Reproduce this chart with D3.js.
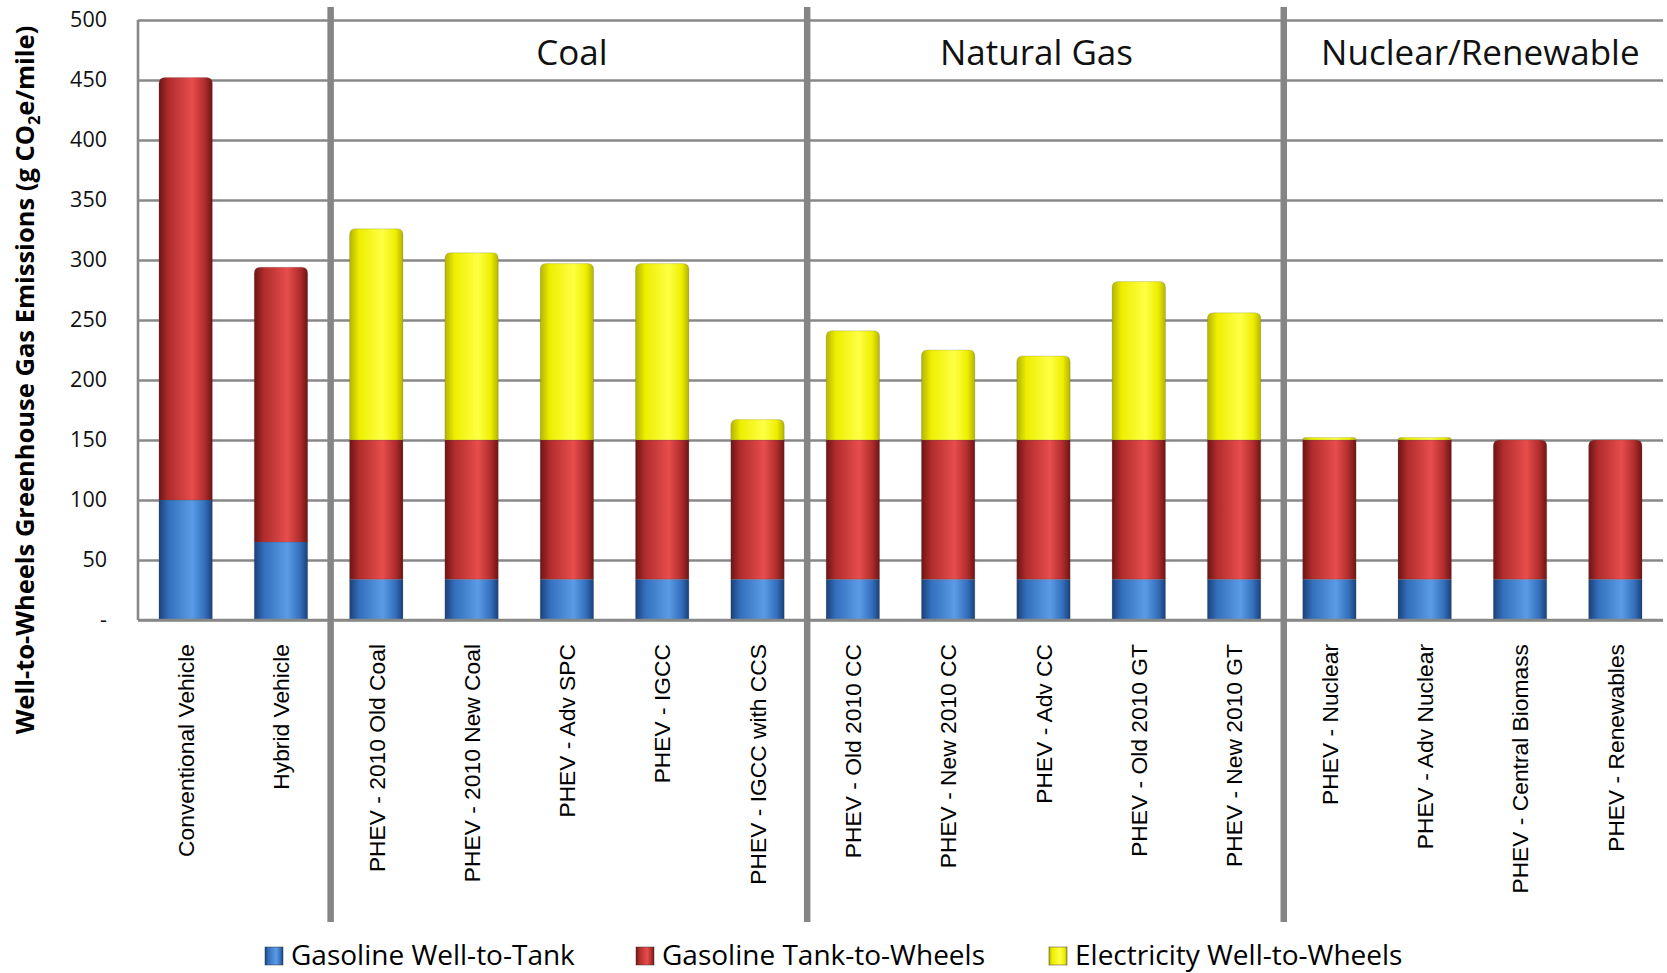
<!DOCTYPE html>
<html>
<head>
<meta charset="utf-8">
<script src="https://cdn.jsdelivr.net/npm/d3@7"></script>
<style>
  body { margin: 0; background: white; }
  svg { display: block; }
</style>
</head>
<body>
<div id="container"></div>
<script>
// categories along the x axis
const categories = [
  "Conventional Vehicle", "Hybrid Vehicle",
  "PHEV - 2010 Old Coal", "PHEV - 2010 New Coal", "PHEV - Adv SPC", "PHEV - IGCC", "PHEV - IGCC with CCS",
  "PHEV - Old 2010 CC", "PHEV - New 2010 CC", "PHEV - Adv CC", "PHEV - Old 2010 GT", "PHEV - New 2010 GT",
  "PHEV - Nuclear", "PHEV - Adv Nuclear", "PHEV - Central Biomass", "PHEV - Renewables"
];

// series values (g CO2e/mile)
const gasWellToTank   = [100, 65, 34, 34, 34, 34, 34, 34, 34, 34, 34, 34, 34, 34, 34, 34];
const gasTankToWheels = [352, 229, 116, 116, 116, 116, 116, 116, 116, 116, 116, 116, 116, 116, 116, 116];
const elecWellToWheels = [0, 0, 176, 156, 147, 147, 17, 91, 75, 70, 132, 106, 2, 2, 0, 0];

const seriesNames = ["Gasoline Well-to-Tank", "Gasoline Tank-to-Wheels", "Electricity Well-to-Wheels"];

// group headers: name and index range of categories in group
const groupNames = ["Coal", "Natural Gas", "Nuclear/Renewable"];
const groupStart = [2, 7, 12];
const groupEnd = [7, 12, 16];
const titleNudge = [5, -7, 8];

const yTicks = [0, 50, 100, 150, 200, 250, 300, 350, 400, 450, 500];

const width = 1667, height = 973;
const marginLeft = 138, marginRight = 4, marginTop = 20, plotBottom = 620;

const x = d3.scaleBand()
  .domain(categories)
  .range([marginLeft, width - marginRight])
  .paddingInner(0.44)
  .paddingOuter(0.22);

const y = d3.scaleLinear()
  .domain([0, 500])
  .range([plotBottom, marginTop]);

const svg = d3.create("svg")
  .attr("width", width)
  .attr("height", height)
  .attr("viewBox", [0, 0, width, height]);

svg.append("rect").attr("width", width).attr("height", height).attr("fill", "white");

// cylinder-like gradients
const colors = [
  { id: "gBlue", dark: "#1a4079", mid: "#336fbc", light: "#5b9be6" },
  { id: "gRed", dark: "#6e1414", mid: "#b02c2c", light: "#e84d4d" },
  { id: "gYellow", dark: "#b4b400", mid: "#eeee00", light: "#ffff45" }
];
const defs = svg.append("defs");
colors.forEach(c => {
  const g = defs.append("linearGradient").attr("id", c.id)
    .attr("x1", 0).attr("x2", 1).attr("y1", 0).attr("y2", 0);
  [[0, c.dark], [0.18, c.mid], [0.62, c.light], [0.86, c.mid], [1, c.dark]]
    .forEach(([o, col]) => g.append("stop").attr("offset", o).attr("stop-color", col));
});

// gridlines
svg.append("g")
  .attr("transform", `translate(${marginLeft},0)`)
  .call(d3.axisLeft(y).tickValues(yTicks).tickSize(-(width - marginRight - marginLeft)).tickFormat(""))
  .call(g => g.select(".domain").remove())
  .call(g => g.selectAll(".tick line").attr("stroke", "#888").attr("stroke-width", 2.6));

// left border
svg.append("line")
  .attr("x1", marginLeft).attr("x2", marginLeft)
  .attr("y1", y(500)).attr("y2", y(0))
  .attr("stroke", "#888").attr("stroke-width", 2.6);

// y tick labels
svg.append("g")
  .attr("transform", `translate(${marginLeft},0)`)
  .call(d3.axisLeft(y).tickValues(yTicks).tickSize(0).tickPadding(31)
    .tickFormat(d => d === 0 ? "-" : d))
  .call(g => g.select(".domain").remove())
  .call(g => g.selectAll("text")
    .attr("font-family", "'Open Sans', sans-serif")
    .attr("font-size", 21.5)
    .attr("fill", "#111"));

// stacked bars
const rows = categories.map((c, i) => ({
  cat: c,
  wtt: gasWellToTank[i],
  ttw: gasTankToWheels[i],
  elec: elecWellToWheels[i]
}));
const stack = d3.stack().keys(["wtt", "ttw", "elec"])(rows);
const fills = ["url(#gBlue)", "url(#gRed)", "url(#gYellow)"];

function segPath(x0, w, yTop, yBot, rounded) {
  const p = d3.path();
  const r = rounded ? Math.min(6, (yBot - yTop)) : 0;
  p.moveTo(x0, yBot);
  p.lineTo(x0, yTop + r);
  if (r > 0) p.quadraticCurveTo(x0, yTop, x0 + r, yTop);
  p.lineTo(x0 + w - r, yTop);
  if (r > 0) p.quadraticCurveTo(x0 + w, yTop, x0 + w, yTop + r);
  p.lineTo(x0 + w, yBot);
  p.closePath();
  return p.toString();
}

stack.forEach((layer, li) => {
  svg.append("g")
    .selectAll("path")
    .data(layer.filter(d => d[1] - d[0] > 0))
    .join("path")
    .attr("fill", fills[li])
    .attr("stroke", "rgba(80,80,80,0.25)")
    .attr("stroke-width", 0.8)
    .attr("d", d => {
      const isTop = li === 2 ? true : (li === 1 ? d.data.elec === 0 : false);
      return segPath(x(d.data.cat), x.bandwidth(), y(d[1]), y(d[0]), isTop);
    });
});

// baseline
svg.append("line")
  .attr("x1", marginLeft).attr("x2", width - marginRight)
  .attr("y1", y(0)).attr("y2", y(0))
  .attr("stroke", "#888").attr("stroke-width", 2.6);

// category labels
svg.append("g")
  .attr("transform", `translate(0,${plotBottom})`)
  .call(d3.axisBottom(x).tickSize(0))
  .call(g => g.select(".domain").remove())
  .call(g => g.selectAll("text")
    .attr("transform", "rotate(-90)")
    .attr("x", -24)
    .attr("y", 0)
    .attr("dy", "0.36em")
    .attr("text-anchor", "end")
    .attr("font-family", "'Liberation Sans', Arial, sans-serif")
    .attr("font-size", 22.8)
    .attr("fill", "#000"));

// group separators
const step = x.step();
const boundary = i => x(categories[i]) - step * x.paddingInner() / 2;
svg.append("g")
  .selectAll("line")
  .data(groupStart)
  .join("line")
  .attr("x1", d => boundary(d) + 2).attr("x2", d => boundary(d) + 2)
  .attr("y1", 7).attr("y2", 922)
  .attr("stroke", "#858585")
  .attr("stroke-width", 6.5);

// group titles
svg.append("g")
  .selectAll("text")
  .data(groupNames)
  .join("text")
  .attr("x", (d, i) => {
    const a = boundary(groupStart[i]);
    const b = groupEnd[i] < categories.length ? boundary(groupEnd[i]) : width - marginRight;
    return (a + b) / 2 + titleNudge[i];
  })
  .attr("y", 65)
  .attr("text-anchor", "middle")
  .attr("font-family", "'Open Sans', sans-serif")
  .attr("font-size", 35)
  .attr("fill", "#111")
  .text(d => d);

// y axis title
const yTitle = svg.append("text")
  .attr("transform", `translate(34,${380}) rotate(-90)`)
  .attr("text-anchor", "middle")
  .attr("font-family", "'Open Sans', sans-serif")
  .attr("font-weight", "bold")
  .attr("font-size", 25.5)
  .attr("fill", "#000");
yTitle.append("tspan").text("Well-to-Wheels Greenhouse Gas Emissions (g CO");
yTitle.append("tspan").attr("font-size", 16.5).attr("dy", 6).text("2");
yTitle.append("tspan").attr("dy", -6).text("e/mile)");

// legend
const legendX = [265, 636, 1049];
const legend = svg.append("g")
  .selectAll("g")
  .data(seriesNames)
  .join("g")
  .attr("transform", (d, i) => `translate(${legendX[i]},947)`);
legend.append("rect")
  .attr("width", 18).attr("height", 18)
  .attr("fill", (d, i) => fills[i])
  .attr("stroke", "rgba(60,60,60,0.5)")
  .attr("stroke-width", 1);
legend.append("text")
  .attr("x", 26)
  .attr("y", 18)
  .attr("font-family", "'Open Sans', sans-serif")
  .attr("font-size", 28)
  .attr("fill", "#000")
  .text(d => d);

document.getElementById("container").append(svg.node());
</script>
</body>
</html>
